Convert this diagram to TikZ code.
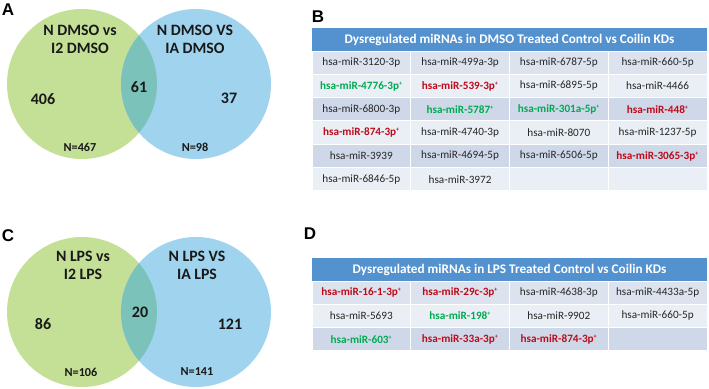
\documentclass[tikz,border=0pt]{standalone}
\usepackage{fontspec}
\setmainfont{Carlito}
\newfontfamily\panelfont{Liberation Sans}
\usetikzlibrary{positioning}
\definecolor{venngreen}{RGB}{196,224,150}
\definecolor{vennblue}{RGB}{160,212,238}
\definecolor{venncommon}{RGB}{122,194,186}
\definecolor{headblue}{RGB}{84,146,207}
\definecolor{bandfirst}{RGB}{221,227,238}
\definecolor{bandlight}{RGB}{234,238,245}
\definecolor{banddark}{RGB}{207,216,233}
\definecolor{mirred}{RGB}{190,10,25}
\definecolor{mirgreen}{RGB}{0,170,80}
\newcommand{\mirup}[1]{\textcolor{mirred}{\bfseries #1\textsuperscript{\fontsize{6}{6}\selectfont+}}}
\newcommand{\mirdown}[1]{\textcolor{mirgreen}{\bfseries #1\textsuperscript{\fontsize{6}{6}\selectfont+}}}

\begin{document}
\begin{tikzpicture}[x=1pt,y=-1pt,line join=round,
 panel/.style={font=\panelfont\bfseries\fontsize{17}{17}\selectfont},
 setlabel/.style={align=center,text=black!90,font=\bfseries\fontsize{15.8}{18}\selectfont},
 count/.style={text=black!90,font=\bfseries\fontsize{16}{18}\selectfont},
 total/.style={text=black!90,font=\bfseries\fontsize{12.2}{14}\selectfont},
 head/.style={fill=headblue,text=white,anchor=north west,inner sep=0pt,outer sep=0pt,
  minimum width=395pt,minimum height=23pt,font=\bfseries\fontsize{13.2}{15}\selectfont},
 cell/.style={draw=white,line width=1pt,inner sep=0pt,outer sep=0pt,
  minimum width=98.75pt,minimum height=23.33pt,text=black!85,font=\fontsize{11.2}{13}\selectfont}]
 \useasboundingbox (0,0) rectangle (709,388);
 % Panel A: DMSO overlap.
 \fill[venngreen] (82,84) circle (75pt);
 \fill[vennblue] (196,84) circle (75pt);
 \begin{scope}
  \clip (82,84) circle (75pt);
  \fill[venncommon] (196,84) circle (75pt);
 \end{scope}
 \node[panel] (a-tag) at (8,10) {A};
 \node[setlabel] (a-left) at (80,39) {N DMSO vs\\I2 DMSO};
 \node[setlabel] (a-right) at (195,39) {N DMSO VS\\IA DMSO};
 \node[count] (a-only-left) at (43,99) {406};
 \node[count] (a-both) at (139,87) {61};
 \node[count] (a-only-right) at (229,98) {37};
 \node[total] (a-left-n) at (80,147) {N=467};
 \node[total] (a-right-n) at (195,147) {N=98};
 % Panel C: LPS overlap.
 \fill[venngreen] (82,312) circle (75pt);
 \fill[vennblue] (196,312) circle (75pt);
 \begin{scope}
  \clip (82,312) circle (75pt);
  \fill[venncommon] (196,312) circle (75pt);
 \end{scope}
 \node[panel] (c-tag) at (8,236) {C};
 \node[setlabel] (c-left) at (83,265) {N LPS vs\\I2 LPS};
 \node[setlabel] (c-right) at (197,265) {N LPS VS\\IA LPS};
 \node[count] (c-only-left) at (43,324) {86};
 \node[count] (c-both) at (140,312) {20};
 \node[count] (c-only-right) at (230,324) {121};
 \node[total] (c-left-n) at (81,372) {N=106};
 \node[total] (c-right-n) at (197,372) {N=141};
 % Panel B: DMSO table.
 \node[panel] (b-tag) at (318,17) {B};
 \node[head] (b-head) at (312,28) {Dysregulated miRNAs in DMSO Treated Control vs Coilin KDs};
 \foreach \r/\f/\ca/\cb/\cc/\cd in {
  1/bandfirst/{hsa-miR-3120-3p}/{hsa-miR-499a-3p}/{hsa-miR-6787-5p}/{hsa-miR-660-5p},
  2/bandlight/{\mirdown{hsa-miR-4776-3p}}/{\mirup{hsa-miR-539-3p}}/{hsa-miR-6895-5p}/{hsa-miR-4466},
  3/banddark/{hsa-miR-6800-3p}/{\mirdown{hsa-miR-5787}}/{\mirdown{hsa-miR-301a-5p}}/{\mirup{hsa-miR-448}},
  4/bandlight/{\mirup{hsa-miR-874-3p}}/{hsa-miR-4740-3p}/{hsa-miR-8070}/{hsa-miR-1237-5p},
  5/banddark/{hsa-miR-3939}/{hsa-miR-4694-5p}/{hsa-miR-6506-5p}/{\mirup{hsa-miR-3065-3p}},
  6/bandlight/{hsa-miR-6846-5p}/{hsa-miR-3972}/{}/{}}{
  \node[cell,fill=\f] (b-\r-1) at (361.375,{51+23.33*(\r-0.5)}) {\ca};
  \node[cell,fill=\f,right=0pt of b-\r-1] (b-\r-2) {\cb};
  \node[cell,fill=\f,right=0pt of b-\r-2] (b-\r-3) {\cc};
  \node[cell,fill=\f,right=0pt of b-\r-3] (b-\r-4) {\cd};
 }
 % Panel D: LPS table.
 \node[panel] (d-tag) at (310,234) {D};
 \node[head] (d-head) at (312,258) {Dysregulated miRNAs in LPS Treated Control vs Coilin KDs};
 \foreach \r/\f/\ca/\cb/\cc/\cd in {
  1/bandfirst/{\mirup{hsa-miR-16-1-3p}}/{\mirup{hsa-miR-29c-3p}}/{hsa-miR-4638-3p}/{hsa-miR-4433a-5p},
  2/bandlight/{hsa-miR-5693}/{\mirdown{hsa-miR-198}}/{hsa-miR-9902}/{hsa-miR-660-5p},
  3/banddark/{\mirdown{hsa-miR-603}}/{\mirup{hsa-miR-33a-3p}}/{\mirup{hsa-miR-874-3p}}/{}}{
  \node[cell,fill=\f] (d-\r-1) at (361.375,{281+23.33*(\r-0.5)}) {\ca};
  \node[cell,fill=\f,right=0pt of d-\r-1] (d-\r-2) {\cb};
  \node[cell,fill=\f,right=0pt of d-\r-2] (d-\r-3) {\cc};
  \node[cell,fill=\f,right=0pt of d-\r-3] (d-\r-4) {\cd};
 }
\end{tikzpicture}
\end{document}
